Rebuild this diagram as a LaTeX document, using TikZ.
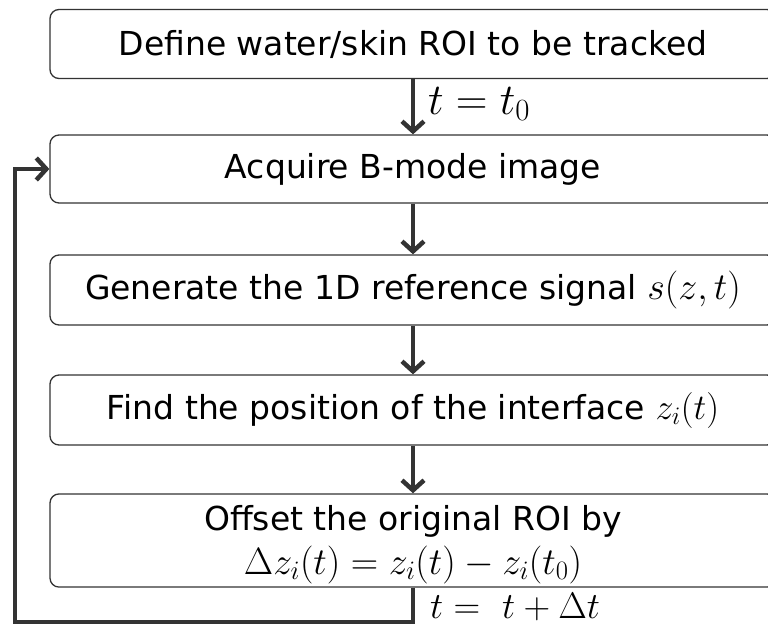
\RequirePackage{fix-cm}
\documentclass[tikz,border=0pt]{standalone}
\usepackage{fontspec}
\setmainfont{DejaVu Sans}
\usetikzlibrary{
	arrows.meta,
	calc
}
\definecolor{linegray}{HTML}{333333}
\newcommand{\mathat}[2]{{\fontsize{#1}{#1}\selectfont$#2$}}
\tikzset{
	stepbox/.style={
		draw=linegray,
		line width=1.3pt,
		rounded corners=9pt,
		minimum width=726pt,
		align=center,
		font=\fontsize{33}{38}\selectfont
	},
	flow/.style={
		draw=linegray,
		line width=4.5pt,
		-{Straight Barb[length=10pt,width=22pt,line width=4.5pt]}
	},
	looplabel/.style={
		anchor=west,
		inner sep=0pt
	}
}

\begin{document}
\begin{tikzpicture}[x=1pt,y=-1pt]
		\useasboundingbox (0,0) rectangle (768,635);
		\coordinate (spine) at (413,0);
		% the steps
		\node[stepbox, minimum height=69pt] (define) at (413,44) {Define water/skin ROI to be tracked};
		\node[stepbox, minimum height=68pt] (acquire) at (413,169) {Acquire B-mode image};
		\node[stepbox, minimum height=70pt] (generate) at (413,290) {Generate the 1D reference signal \mathat{38}{s(z,t)}};
		\node[stepbox, minimum height=70pt] (find) at (413,410) {Find the position of the interface \mathat{36}{z_i(t)}};
		\node[stepbox, minimum height=93pt] (offset) at (413,540.5) {\rule{0pt}{33pt}Offset the original ROI by\\[6pt]\mathat{38}{\Delta z_i(t) = z_i(t) - z_i(t_0)}};
		% straight arrows
		\draw[flow] (define) -- (acquire);
		\draw[flow] (acquire) -- (generate);
		\draw[flow] (generate) -- (find);
		\draw[flow] (find) -- (offset);
		\node[looplabel] (tzero) at (428,104) {\mathat{44}{t = t_0}};
		% feedback loop
		\coordinate (corner) at (15,622);
		\draw[flow] (offset.south) |- (corner) |- (acquire.west);
		\node[looplabel] (tnext) at (430,607) {\mathat{37}{t =\ t + \Delta t}};
	\end{tikzpicture}
\end{document}
